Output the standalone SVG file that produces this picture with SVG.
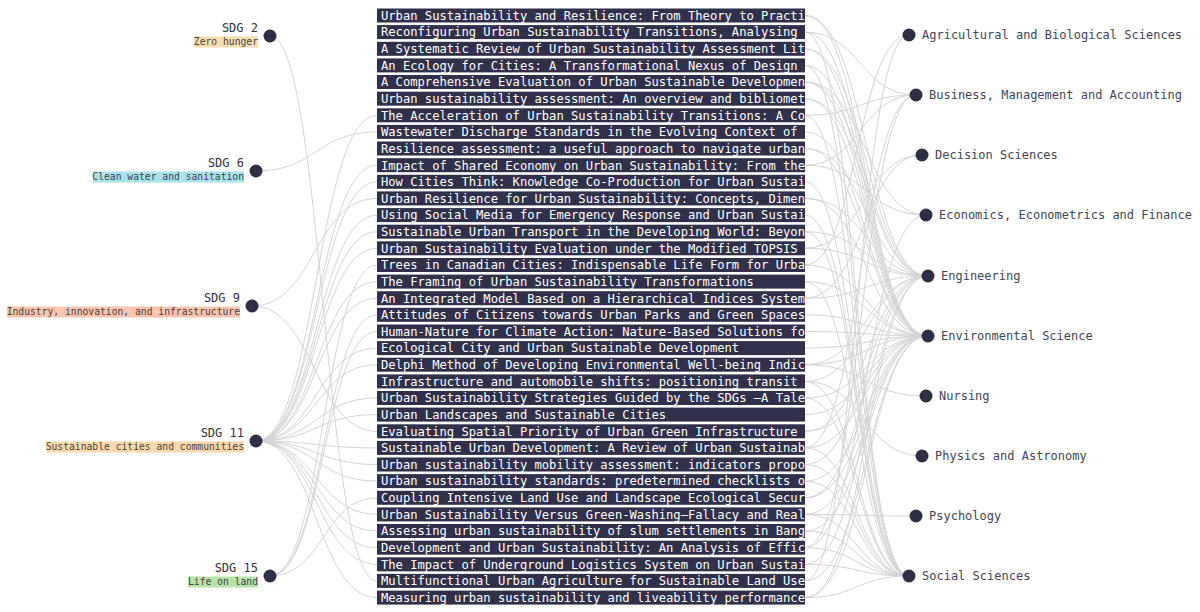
<svg xmlns="http://www.w3.org/2000/svg" width="1200" height="612" viewBox="0 0 1200 612">
<style>
.lk{fill:none;stroke:#d4d4d4;stroke-width:1}
.nd{fill:#2e2e45}
.bar{fill:#30304a}
.bt{font-family:"DejaVu Sans Mono","Liberation Mono",monospace;font-size:12.15px;fill:#ffffff}
.sdg{font-family:"DejaVu Sans Mono","Liberation Mono",monospace;font-size:12px;fill:#333340;text-anchor:end}
.sub{font-family:"DejaVu Sans Mono","Liberation Mono",monospace;font-size:9.7px;fill:#444;text-anchor:end}
.rl{font-family:"DejaVu Sans Mono","Liberation Mono",monospace;font-size:12px;fill:#444455}
</style>
<defs><clipPath id="barclip"><rect x="377" y="0" width="428" height="612"/></clipPath></defs>
<rect width="1200" height="612" fill="#ffffff"/>
<g id="connectors">
<path class="lk" d="M270,36C323.5,36 323.5,580.9 377,580.9"/>
<path class="lk" d="M256,171C316.5,171 316.5,131.9 377,131.9"/>
<path class="lk" d="M252,306C314.5,306 314.5,198.4 377,198.4"/>
<path class="lk" d="M252,306C314.5,306 314.5,431.3 377,431.3"/>
<path class="lk" d="M256,441C316.5,441 316.5,115.3 377,115.3"/>
<path class="lk" d="M256,441C316.5,441 316.5,165.2 377,165.2"/>
<path class="lk" d="M256,441C316.5,441 316.5,181.8 377,181.8"/>
<path class="lk" d="M256,441C316.5,441 316.5,215.1 377,215.1"/>
<path class="lk" d="M256,441C316.5,441 316.5,231.7 377,231.7"/>
<path class="lk" d="M256,441C316.5,441 316.5,248.3 377,248.3"/>
<path class="lk" d="M256,441C316.5,441 316.5,281.6 377,281.6"/>
<path class="lk" d="M256,441C316.5,441 316.5,298.2 377,298.2"/>
<path class="lk" d="M256,441C316.5,441 316.5,348.1 377,348.1"/>
<path class="lk" d="M256,441C316.5,441 316.5,364.7 377,364.7"/>
<path class="lk" d="M256,441C316.5,441 316.5,398.0 377,398.0"/>
<path class="lk" d="M256,441C316.5,441 316.5,414.6 377,414.6"/>
<path class="lk" d="M256,441C316.5,441 316.5,447.9 377,447.9"/>
<path class="lk" d="M256,441C316.5,441 316.5,464.5 377,464.5"/>
<path class="lk" d="M256,441C316.5,441 316.5,481.1 377,481.1"/>
<path class="lk" d="M256,441C316.5,441 316.5,514.4 377,514.4"/>
<path class="lk" d="M256,441C316.5,441 316.5,531.0 377,531.0"/>
<path class="lk" d="M256,441C316.5,441 316.5,547.7 377,547.7"/>
<path class="lk" d="M256,441C316.5,441 316.5,564.3 377,564.3"/>
<path class="lk" d="M256,441C316.5,441 316.5,597.6 377,597.6"/>
<path class="lk" d="M270,576C323.5,576 323.5,265.0 377,265.0"/>
<path class="lk" d="M270,576C323.5,576 323.5,314.8 377,314.8"/>
<path class="lk" d="M270,576C323.5,576 323.5,331.5 377,331.5"/>
<path class="lk" d="M270,576C323.5,576 323.5,497.8 377,497.8"/>
<path class="lk" d="M805,265.0C857,265.0 857,35 909,35"/>
<path class="lk" d="M805,580.9C857,580.9 857,35 909,35"/>
<path class="lk" d="M805,32.1C860.5,32.1 860.5,95 916,95"/>
<path class="lk" d="M805,115.3C860.5,115.3 860.5,95 916,95"/>
<path class="lk" d="M805,165.2C860.5,165.2 860.5,95 916,95"/>
<path class="lk" d="M805,447.9C860.5,447.9 860.5,95 916,95"/>
<path class="lk" d="M805,547.7C860.5,547.7 860.5,95 916,95"/>
<path class="lk" d="M805,248.3C863.5,248.3 863.5,155 922,155"/>
<path class="lk" d="M805,298.2C863.5,298.2 863.5,155 922,155"/>
<path class="lk" d="M805,82.0C865.5,82.0 865.5,215 926,215"/>
<path class="lk" d="M805,165.2C865.5,165.2 865.5,215 926,215"/>
<path class="lk" d="M805,547.7C865.5,547.7 865.5,215 926,215"/>
<path class="lk" d="M805,15.5C866.5,15.5 866.5,276 928,276"/>
<path class="lk" d="M805,48.8C866.5,48.8 866.5,276 928,276"/>
<path class="lk" d="M805,82.0C866.5,82.0 866.5,276 928,276"/>
<path class="lk" d="M805,98.7C866.5,98.7 866.5,276 928,276"/>
<path class="lk" d="M805,148.5C866.5,148.5 866.5,276 928,276"/>
<path class="lk" d="M805,198.4C866.5,198.4 866.5,276 928,276"/>
<path class="lk" d="M805,231.7C866.5,231.7 866.5,276 928,276"/>
<path class="lk" d="M805,248.3C866.5,248.3 866.5,276 928,276"/>
<path class="lk" d="M805,298.2C866.5,298.2 866.5,276 928,276"/>
<path class="lk" d="M805,364.7C866.5,364.7 866.5,276 928,276"/>
<path class="lk" d="M805,381.4C866.5,381.4 866.5,276 928,276"/>
<path class="lk" d="M805,431.3C866.5,431.3 866.5,276 928,276"/>
<path class="lk" d="M805,464.5C866.5,464.5 866.5,276 928,276"/>
<path class="lk" d="M805,497.8C866.5,497.8 866.5,276 928,276"/>
<path class="lk" d="M805,564.3C866.5,564.3 866.5,276 928,276"/>
<path class="lk" d="M805,597.6C866.5,597.6 866.5,276 928,276"/>
<path class="lk" d="M805,15.5C866.5,15.5 866.5,336 928,336"/>
<path class="lk" d="M805,32.1C866.5,32.1 866.5,336 928,336"/>
<path class="lk" d="M805,48.8C866.5,48.8 866.5,336 928,336"/>
<path class="lk" d="M805,65.4C866.5,65.4 866.5,336 928,336"/>
<path class="lk" d="M805,82.0C866.5,82.0 866.5,336 928,336"/>
<path class="lk" d="M805,98.7C866.5,98.7 866.5,336 928,336"/>
<path class="lk" d="M805,131.9C866.5,131.9 866.5,336 928,336"/>
<path class="lk" d="M805,148.5C866.5,148.5 866.5,336 928,336"/>
<path class="lk" d="M805,198.4C866.5,198.4 866.5,336 928,336"/>
<path class="lk" d="M805,265.0C866.5,265.0 866.5,336 928,336"/>
<path class="lk" d="M805,281.6C866.5,281.6 866.5,336 928,336"/>
<path class="lk" d="M805,314.8C866.5,314.8 866.5,336 928,336"/>
<path class="lk" d="M805,331.5C866.5,331.5 866.5,336 928,336"/>
<path class="lk" d="M805,348.1C866.5,348.1 866.5,336 928,336"/>
<path class="lk" d="M805,364.7C866.5,364.7 866.5,336 928,336"/>
<path class="lk" d="M805,398.0C866.5,398.0 866.5,336 928,336"/>
<path class="lk" d="M805,414.6C866.5,414.6 866.5,336 928,336"/>
<path class="lk" d="M805,431.3C866.5,431.3 866.5,336 928,336"/>
<path class="lk" d="M805,447.9C866.5,447.9 866.5,336 928,336"/>
<path class="lk" d="M805,481.1C866.5,481.1 866.5,336 928,336"/>
<path class="lk" d="M805,497.8C866.5,497.8 866.5,336 928,336"/>
<path class="lk" d="M805,514.4C866.5,514.4 866.5,336 928,336"/>
<path class="lk" d="M805,531.0C866.5,531.0 866.5,336 928,336"/>
<path class="lk" d="M805,580.9C866.5,580.9 866.5,336 928,336"/>
<path class="lk" d="M805,597.6C866.5,597.6 866.5,336 928,336"/>
<path class="lk" d="M805,364.7C865.5,364.7 865.5,396 926,396"/>
<path class="lk" d="M805,381.4C863.5,381.4 863.5,456 922,456"/>
<path class="lk" d="M805,514.4C860.5,514.4 860.5,516 916,516"/>
<path class="lk" d="M805,32.1C857,32.1 857,576 909,576"/>
<path class="lk" d="M805,65.4C857,65.4 857,576 909,576"/>
<path class="lk" d="M805,115.3C857,115.3 857,576 909,576"/>
<path class="lk" d="M805,181.8C857,181.8 857,576 909,576"/>
<path class="lk" d="M805,215.1C857,215.1 857,576 909,576"/>
<path class="lk" d="M805,231.7C857,231.7 857,576 909,576"/>
<path class="lk" d="M805,281.6C857,281.6 857,576 909,576"/>
<path class="lk" d="M805,381.4C857,381.4 857,576 909,576"/>
<path class="lk" d="M805,398.0C857,398.0 857,576 909,576"/>
<path class="lk" d="M805,447.9C857,447.9 857,576 909,576"/>
<path class="lk" d="M805,464.5C857,464.5 857,576 909,576"/>
<path class="lk" d="M805,481.1C857,481.1 857,576 909,576"/>
<path class="lk" d="M805,514.4C857,514.4 857,576 909,576"/>
<path class="lk" d="M805,531.0C857,531.0 857,576 909,576"/>
<path class="lk" d="M805,547.7C857,547.7 857,576 909,576"/>
<path class="lk" d="M805,564.3C857,564.3 857,576 909,576"/>
<path class="lk" d="M805,597.6C857,597.6 857,576 909,576"/>
</g>
<g id="sdg-2"><circle class="nd" cx="270" cy="36" r="6.5"/><text class="sdg" x="258" y="32">SDG 2</text><rect x="194" y="36.5" width="64" height="11" fill="#f5ddb0"/><text class="sub" x="258" y="45">Zero hunger</text></g>
<g id="sdg-6"><circle class="nd" cx="256" cy="171" r="6.5"/><text class="sdg" x="244" y="167">SDG 6</text><rect x="93" y="171.5" width="151" height="11" fill="#a8e2ef"/><text class="sub" x="244" y="180">Clean water and sanitation</text></g>
<g id="sdg-9"><circle class="nd" cx="252" cy="306" r="6.5"/><text class="sdg" x="240" y="302">SDG 9</text><rect x="7" y="306.5" width="233" height="11" fill="#fbc4ae"/><text class="sub" x="240" y="315">Industry, innovation, and infrastructure</text></g>
<g id="sdg-11"><circle class="nd" cx="256" cy="441" r="6.5"/><text class="sdg" x="244" y="437">SDG 11</text><rect x="46" y="441.5" width="198" height="11" fill="#fdd8aa"/><text class="sub" x="244" y="450">Sustainable cities and communities</text></g>
<g id="sdg-15"><circle class="nd" cx="270" cy="576" r="6.5"/><text class="sdg" x="258" y="572">SDG 15</text><rect x="188" y="576.5" width="70" height="11" fill="#b5e3a8"/><text class="sub" x="258" y="585">Life on land</text></g>
<g id="papers">
<rect class="bar" x="377" y="8.5" width="428" height="14"/>
<rect class="bar" x="377" y="25.1" width="428" height="14"/>
<rect class="bar" x="377" y="41.8" width="428" height="14"/>
<rect class="bar" x="377" y="58.4" width="428" height="14"/>
<rect class="bar" x="377" y="75.0" width="428" height="14"/>
<rect class="bar" x="377" y="91.7" width="428" height="14"/>
<rect class="bar" x="377" y="108.3" width="428" height="14"/>
<rect class="bar" x="377" y="124.9" width="428" height="14"/>
<rect class="bar" x="377" y="141.5" width="428" height="14"/>
<rect class="bar" x="377" y="158.2" width="428" height="14"/>
<rect class="bar" x="377" y="174.8" width="428" height="14"/>
<rect class="bar" x="377" y="191.4" width="428" height="14"/>
<rect class="bar" x="377" y="208.1" width="428" height="14"/>
<rect class="bar" x="377" y="224.7" width="428" height="14"/>
<rect class="bar" x="377" y="241.3" width="428" height="14"/>
<rect class="bar" x="377" y="258.0" width="428" height="14"/>
<rect class="bar" x="377" y="274.6" width="428" height="14"/>
<rect class="bar" x="377" y="291.2" width="428" height="14"/>
<rect class="bar" x="377" y="307.8" width="428" height="14"/>
<rect class="bar" x="377" y="324.5" width="428" height="14"/>
<rect class="bar" x="377" y="341.1" width="428" height="14"/>
<rect class="bar" x="377" y="357.7" width="428" height="14"/>
<rect class="bar" x="377" y="374.4" width="428" height="14"/>
<rect class="bar" x="377" y="391.0" width="428" height="14"/>
<rect class="bar" x="377" y="407.6" width="428" height="14"/>
<rect class="bar" x="377" y="424.3" width="428" height="14"/>
<rect class="bar" x="377" y="440.9" width="428" height="14"/>
<rect class="bar" x="377" y="457.5" width="428" height="14"/>
<rect class="bar" x="377" y="474.1" width="428" height="14"/>
<rect class="bar" x="377" y="490.8" width="428" height="14"/>
<rect class="bar" x="377" y="507.4" width="428" height="14"/>
<rect class="bar" x="377" y="524.0" width="428" height="14"/>
<rect class="bar" x="377" y="540.7" width="428" height="14"/>
<rect class="bar" x="377" y="557.3" width="428" height="14"/>
<rect class="bar" x="377" y="573.9" width="428" height="14"/>
<rect class="bar" x="377" y="590.6" width="428" height="14"/>
<g clip-path="url(#barclip)">
<text class="bt" x="381" y="19.8">Urban Sustainability and Resilience: From Theory to Practi</text>
<text class="bt" x="381" y="36.4">Reconfiguring Urban Sustainability Transitions, Analysing</text>
<text class="bt" x="381" y="53.1">A Systematic Review of Urban Sustainability Assessment Lit</text>
<text class="bt" x="381" y="69.7">An Ecology for Cities: A Transformational Nexus of Design</text>
<text class="bt" x="381" y="86.3">A Comprehensive Evaluation of Urban Sustainable Developmen</text>
<text class="bt" x="381" y="103.0">Urban sustainability assessment: An overview and bibliomet</text>
<text class="bt" x="381" y="119.6">The Acceleration of Urban Sustainability Transitions: A Co</text>
<text class="bt" x="381" y="136.2">Wastewater Discharge Standards in the Evolving Context of</text>
<text class="bt" x="381" y="152.8">Resilience assessment: a useful approach to navigate urban</text>
<text class="bt" x="381" y="169.5">Impact of Shared Economy on Urban Sustainability: From the</text>
<text class="bt" x="381" y="186.1">How Cities Think: Knowledge Co-Production for Urban Sustai</text>
<text class="bt" x="381" y="202.7">Urban Resilience for Urban Sustainability: Concepts, Dimen</text>
<text class="bt" x="381" y="219.4">Using Social Media for Emergency Response and Urban Sustai</text>
<text class="bt" x="381" y="236.0">Sustainable Urban Transport in the Developing World: Beyon</text>
<text class="bt" x="381" y="252.6">Urban Sustainability Evaluation under the Modified TOPSIS</text>
<text class="bt" x="381" y="269.3">Trees in Canadian Cities: Indispensable Life Form for Urba</text>
<text class="bt" x="381" y="285.9">The Framing of Urban Sustainability Transformations</text>
<text class="bt" x="381" y="302.5">An Integrated Model Based on a Hierarchical Indices System</text>
<text class="bt" x="381" y="319.1">Attitudes of Citizens towards Urban Parks and Green Spaces</text>
<text class="bt" x="381" y="335.8">Human-Nature for Climate Action: Nature-Based Solutions fo</text>
<text class="bt" x="381" y="352.4">Ecological City and Urban Sustainable Development</text>
<text class="bt" x="381" y="369.0">Delphi Method of Developing Environmental Well-being Indic</text>
<text class="bt" x="381" y="385.7">Infrastructure and automobile shifts: positioning transit</text>
<text class="bt" x="381" y="402.3">Urban Sustainability Strategies Guided by the SDGs —A Tale</text>
<text class="bt" x="381" y="418.9">Urban Landscapes and Sustainable Cities</text>
<text class="bt" x="381" y="435.6">Evaluating Spatial Priority of Urban Green Infrastructure</text>
<text class="bt" x="381" y="452.2">Sustainable Urban Development: A Review of Urban Sustainab</text>
<text class="bt" x="381" y="468.8">Urban sustainability mobility assessment: indicators propo</text>
<text class="bt" x="381" y="485.4">Urban sustainability standards: predetermined checklists o</text>
<text class="bt" x="381" y="502.1">Coupling Intensive Land Use and Landscape Ecological Secur</text>
<text class="bt" x="381" y="518.7">Urban Sustainability Versus Green-Washing—Fallacy and Real</text>
<text class="bt" x="381" y="535.3">Assessing urban sustainability of slum settlements in Bang</text>
<text class="bt" x="381" y="552.0">Development and Urban Sustainability: An Analysis of Effic</text>
<text class="bt" x="381" y="568.6">The Impact of Underground Logistics System on Urban Sustai</text>
<text class="bt" x="381" y="585.2">Multifunctional Urban Agriculture for Sustainable Land Use</text>
<text class="bt" x="381" y="601.9">Measuring urban sustainability and liveability performance</text>
</g>
</g>
<g id="subj-agri"><circle class="nd" cx="909" cy="35" r="6.5"/><text class="rl" x="922" y="39">Agricultural and Biological Sciences</text></g>
<g id="subj-bus"><circle class="nd" cx="916" cy="95" r="6.5"/><text class="rl" x="929" y="99">Business, Management and Accounting</text></g>
<g id="subj-dec"><circle class="nd" cx="922" cy="155" r="6.5"/><text class="rl" x="935" y="159">Decision Sciences</text></g>
<g id="subj-eco"><circle class="nd" cx="926" cy="215" r="6.5"/><text class="rl" x="939" y="219">Economics, Econometrics and Finance</text></g>
<g id="subj-eng"><circle class="nd" cx="928" cy="276" r="6.5"/><text class="rl" x="941" y="280">Engineering</text></g>
<g id="subj-env"><circle class="nd" cx="928" cy="336" r="6.5"/><text class="rl" x="941" y="340">Environmental Science</text></g>
<g id="subj-nurs"><circle class="nd" cx="926" cy="396" r="6.5"/><text class="rl" x="939" y="400">Nursing</text></g>
<g id="subj-phys"><circle class="nd" cx="922" cy="456" r="6.5"/><text class="rl" x="935" y="460">Physics and Astronomy</text></g>
<g id="subj-psych"><circle class="nd" cx="916" cy="516" r="6.5"/><text class="rl" x="929" y="520">Psychology</text></g>
<g id="subj-soc"><circle class="nd" cx="909" cy="576" r="6.5"/><text class="rl" x="922" y="580">Social Sciences</text></g>
</svg>
